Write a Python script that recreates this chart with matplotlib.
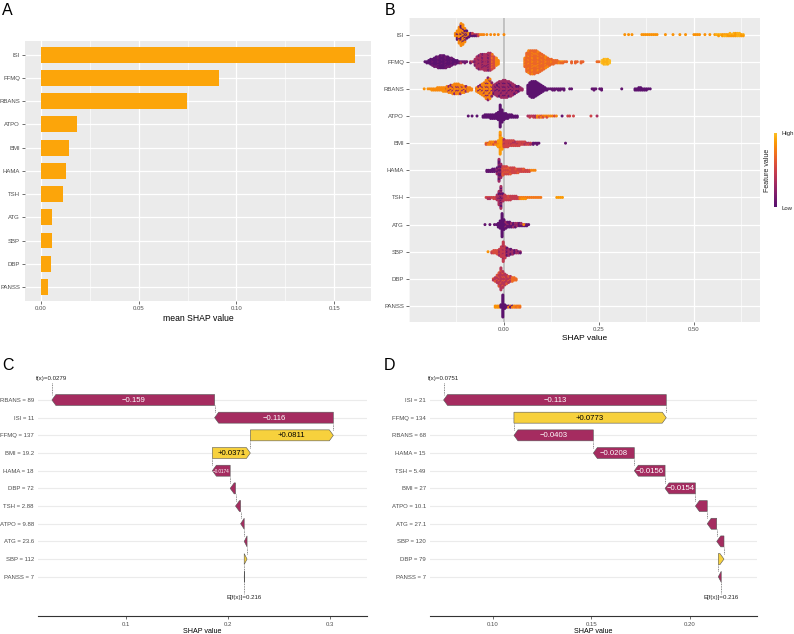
import numpy as np
import matplotlib.pyplot as plt
from matplotlib.colors import ListedColormap
from matplotlib.patches import Polygon
from matplotlib.ticker import MultipleLocator

plt.rcParams['font.family'] = ['Liberation Sans', 'DejaVu Sans']

# ---------------- data ----------------
features = ["ISI", "FFMQ", "RBANS", "ATPO", "BMI", "HAMA", "TSH", "ATG", "SBP", "DBP", "PANSS"]
mean_abs_shap = [0.1607, 0.0913, 0.0748, 0.0184, 0.0143, 0.0128, 0.0114, 0.0060, 0.0059, 0.0051, 0.0036]

BIN = 0.005
swarm_ISI = [(-0.128, [3, 8, 14, 19, 17, 12, 7, 4], 0.82, 0.05),
             (-0.088, [3, 3, 2, 2], 0.05, 0.45),
             (-0.068, [2, 1, 1, 1], 0.45, 0.80),
             (-0.045, [1, 0, 1, 0, 1, 0, 1, 0, 0, 1], 0.82, 0.82),
             (0.318, [1, 0, 1], 0.85, 0.85),
             (0.337, [1], 0.85, 0.85),
             (0.363, [1, 1, 1, 1, 1, 1, 1, 1, 1], 0.85, 0.85),
             (0.425, [1], 0.85, 0.85), (0.445, [1], 0.85, 0.85),
             (0.463, [1], 0.85, 0.85), (0.478, [1], 0.85, 0.85),
             (0.500, [1, 1, 1, 1], 0.85, 0.85),
             (0.529, [1], 0.85, 0.85), (0.542, [1], 0.85, 0.85),
             (0.555, [1, 1, 2, 1, 2, 2, 2, 2, 3, 2, 3, 3, 3, 3, 2, 2], 0.88, 0.95)]
swarm_FFMQ = [(-0.208, [1, 2, 3, 5, 6, 8, 9, 10, 11, 11, 11, 10, 9, 8, 7, 5, 4, 3, 2], 0.02, 0.10),
              (-0.113, [2, 1, 2, 1, 0, 2, 1, 1], 0.10, 0.40),
              (-0.076, [6, 10, 12, 13, 13, 14, 14, 15, 15], 0.35, 0.15),
              (-0.031, [13, 10], 0.55, 0.72),
              (-0.020, [7, 4], 0.80, 0.80),
              (0.055, [8, 16, 19, 20, 20, 20, 19, 18, 16, 14, 12, 10, 8, 6, 5, 4, 3, 3, 2, 2, 2, 1, 1], 0.68, 0.80),
              (0.178, [2, 0, 2, 1, 0, 2, 1], 0.66, 0.66),
              (0.245, [1, 1], 0.70, 0.70),
              (0.258, [3, 5, 5, 5, 3], 0.95, 1.0)]
swarm_RBANS = [(-0.210, [1], 0.85, 0.85),
               (-0.200, [1, 1, 2, 2, 2, 3, 3, 3, 4, 4], 0.82, 0.85),
               (-0.150, [5, 6, 7, 8, 9, 9, 9, 8, 7, 6, 5, 4, 3, 2], 0.80, 0.25),
               (-0.072, [4, 6, 8, 10, 12, 16, 19, 17, 12], 0.80, 0.20),
               (-0.027, [8, 10, 12, 13, 14, 15, 15, 14, 13, 12, 10, 8, 6, 5, 3, 2], 0.30, 0.05),
               (0.063, [8, 12, 14, 14, 13, 11, 9, 7, 5, 3, 2], 0.02, 0.02),
               (0.118, [1, 1, 2, 2, 1, 2, 2, 1, 2, 0, 0, 1, 1], 0.05, 0.05),
               (0.232, [1, 2, 1, 0, 1, 2], 0.05, 0.05),
               (0.310, [1], 0.05, 0.05),
               (0.345, [2, 2, 3, 3, 2, 2, 2, 1, 1], 0.02, 0.02)]
swarm_ATPO = [(-0.094, [1, 0, 1], 0.02, 0.02),
              (-0.071, [1], 0.02, 0.02),
              (-0.055, [2, 3, 3, 3, 4, 4, 4, 5, 7, 19, 11, 6, 5, 4, 3, 3, 2, 2, 2], 0.02, 0.02),
              (0.063, [1, 2, 1, 2, 2], 0.35, 0.45),
              (0.088, [2, 2, 2, 2, 1, 2, 1, 1, 1, 1, 1], 0.80, 0.55),
              (0.153, [1], 0.05, 0.05),
              (0.168, [1, 1, 0, 1], 0.50, 0.50),
              (0.229, [1], 0.50, 0.50),
              (0.245, [1], 0.35, 0.35)]
swarm_BMI = [(-0.047, [2, 2, 3, 3, 3, 3, 4], 0.80, 0.55),
             (-0.015, [6, 19, 10], 0.88, 0.75),
             (0.000, [7, 6, 6, 5, 5, 5, 4, 4, 4, 3, 3, 3, 2, 2, 2], 0.50, 0.35),
             (0.077, [2, 1, 2, 1], 0.05, 0.05),
             (0.162, [1], 0.05, 0.05)]
swarm_HAMA = [(-0.045, [2, 2, 2, 3, 3], 0.05, 0.05),
              (-0.018, [6, 19, 12], 0.05, 0.30),
              (-0.003, [8, 7, 7, 6, 6, 5, 5, 4, 4, 3, 3, 3, 2, 2, 2], 0.50, 0.62),
              (0.072, [1, 1, 1], 0.80, 0.80)]
swarm_TSH = [(-0.047, [1, 2, 2, 1, 2, 2], 0.50, 0.35),
             (-0.018, [5, 12, 19, 7], 0.35, 0.05),
             (0.002, [5, 4, 4, 4, 3, 3, 3, 2], 0.45, 0.55),
             (0.042, [2, 2, 2, 2, 1, 1, 1, 1, 1, 1, 1, 1], 0.75, 0.85),
             (0.139, [1, 1, 1, 1], 0.88, 0.88)]
swarm_ATG = [(-0.050, [1], 0.05, 0.05),
             (-0.037, [1], 0.05, 0.05),
             (-0.025, [1, 1], 0.05, 0.05),
             (-0.015, [4, 7, 20, 9], 0.02, 0.02),
             (0.005, [6, 5, 5, 4, 4, 4, 3, 3, 3, 2, 2, 2, 1], 0.05, 0.30),
             (0.052, [1], 0.80, 0.80)]
swarm_SBP = [(-0.042, [1], 0.85, 0.85),
             (-0.032, [2, 3, 3, 4], 0.55, 0.45),
             (-0.012, [6, 9, 17, 10], 0.45, 0.30),
             (0.008, [7, 6, 5, 4, 3, 3, 2, 2], 0.30, 0.05)]
swarm_DBP = [(-0.028, [2, 4, 7, 12, 19, 14, 10, 8, 6, 5], 0.40, 0.60),
             (0.022, [4, 3, 2], 0.70, 0.70)]
swarm_PANSS = [(-0.023, [2, 2, 2], 0.85, 0.85),
               (-0.008, [3, 19, 4], 0.02, 0.02),
               (0.007, [2, 2, 2, 2], 0.05, 0.75),
               (0.027, [2, 2, 2, 2], 0.80, 0.70)]
swarms = [swarm_ISI, swarm_FFMQ, swarm_RBANS, swarm_ATPO, swarm_BMI, swarm_HAMA,
          swarm_TSH, swarm_ATG, swarm_SBP, swarm_DBP, swarm_PANSS]

# waterfall C
labels_c = ["RBANS = 89", "ISI = 11", "FFMQ = 137", "BMI = 19.2", "HAMA = 18", "DBP = 72",
            "TSH = 2.88", "ATPO = 9.88", "ATG = 23.6", "SBP = 112", "PANSS = 7"]
shap_c = [-0.159, -0.116, 0.0811, 0.0371, -0.0174, -0.0052, -0.005, -0.0035, -0.0028, 0.0028, -0.0002]
# waterfall D
labels_d = ["ISI = 21", "FFMQ = 134", "RBANS = 68", "HAMA = 15", "TSH = 5.49", "BMI = 27",
            "ATPO = 10.1", "ATG = 27.1", "SBP = 120", "DBP = 79", "PANSS = 7"]
shap_d = [-0.113, 0.0773, -0.0403, -0.0208, -0.0156, -0.0154, -0.006, -0.0048, -0.0037, 0.0029, -0.0015]
base_value = 0.216

# ---------------- figure ----------------
W, H = 794, 634
fig = plt.figure(figsize=(W / 100, H / 100), dpi=100)


def px_axes(l, t, r, b):
    return fig.add_axes([l / W, 1 - b / H, (r - l) / W, (b - t) / H])


def gg_style(ax):
    ax.set_facecolor('#EBEBEB')
    for s in ax.spines.values():
        s.set_visible(False)
    ax.grid(which='major', color='white', lw=0.9, zorder=0)
    ax.grid(which='minor', axis='x', color='white', lw=0.45, zorder=0)
    ax.set_axisbelow(True)
    ax.tick_params(which='major', labelsize=4.3, labelcolor='#4D4D4D', color='#333333',
                   length=2, width=0.5, pad=1.5)
    ax.tick_params(which='minor', length=0)


ypos = np.arange(len(features))

# ---- A
axA = px_axes(25, 40.7, 371, 301)
gg_style(axA)
axA.barh(ypos, mean_abs_shap, height=0.68, color='#fca50a', zorder=3)
axA.set_ylim(10.6, -0.6)
axA.set_xlim(-0.008, 0.1687)
axA.set_yticks(ypos, features)
axA.set_xticks([0, 0.05, 0.10, 0.15], ["0.00", "0.05", "0.10", "0.15"])
axA.xaxis.set_minor_locator(MultipleLocator(0.025))
axA.set_xlabel("mean SHAP value", fontsize=6.2, labelpad=2)

# ---- B
inferno_cut = ListedColormap(plt.cm.inferno(np.linspace(0.25, 0.85, 256)))
axB = px_axes(409, 18.3, 760, 322.3)
gg_style(axB)
axB.axvline(0, color='#BDBDBD', lw=1.3, zorder=1)
STEP = 0.045
xs, ys, cs = [], [], []
for row, clusters in enumerate(swarms):
    for x0, counts, ca, cb in clusters:
        for i, n in enumerate(counts):
            x = x0 + i * BIN
            for k in range(n):
                off = ((k + 1) // 2) * (1 if k % 2 else -1) * STEP
                xs.append(x)
                ys.append(row + off)
                # interleave the two colours irregularly inside a cluster
                cs.append(cb if (k * k + 3 * i * i + 2 * i + row) % 7 in (2, 5) else ca)
axB.scatter(xs, ys, c=cs, cmap=inferno_cut, vmin=0, vmax=1, s=4.6, linewidths=0, zorder=2)
axB.set_ylim(10.6, -0.6)
axB.set_xlim(-0.25, 0.674)
axB.set_yticks(ypos, features)
axB.set_xticks([0, 0.25, 0.5], ["0.00", "0.25", "0.50"])
axB.xaxis.set_minor_locator(MultipleLocator(0.125))
axB.set_xlabel("SHAP value", fontsize=6.0, labelpad=2)

# colour bar
axCb = px_axes(774, 133, 777, 207)
axCb.imshow(np.linspace(1, 0, 100)[:, None], cmap=inferno_cut, aspect='auto')
axCb.set_axis_off()
fig.text(781 / W, 1 - 133 / H, "High", fontsize=4.3, va='center', ha='left', color='#222222')
fig.text(781 / W, 1 - 208 / H, "Low", fontsize=4.3, va='center', ha='left', color='#222222')
fig.text(767.5 / W, 1 - 170 / H, "Feature value", fontsize=5.0, rotation=90,
         va='center', ha='center', color='#222222')


# ---- waterfalls
def em_width(s):
    w = 0
    for ch in s:
        w += {'.': 0.278, '\u2212': 0.584, '+': 0.584}.get(ch, 0.556)
    return w


def waterfall(ax, labels, values, base, xlim, ticks, ticklabels):
    n = len(values)
    ax.set_xlim(*xlim)
    ax.set_ylim(12.22, -1.98)
    ppu = ax.get_position().width * W / (xlim[1] - xlim[0])
    head = 4 / ppu
    h = 0.31
    starts, ends = [0] * n, [0] * n
    cur = base
    for i in range(n - 1, -1, -1):
        starts[i] = cur
        ends[i] = cur + values[i]
        cur = ends[i]
    fx = ends[0]
    for i in range(n):
        ax.axhline(i, color='#EBEBEB', lw=0.8, zorder=0)
        a, b = starts[i], ends[i]
        d = np.sign(b - a)
        hl = min(head, abs(b - a))
        neck = b - d * hl
        fc = '#f7d13d' if values[i] > 0 else '#a52c60'
        ax.add_patch(Polygon([(a, i - h), (neck, i - h), (b, i), (neck, i + h), (a, i + h)],
                             closed=True, fc=fc, ec='#555555', lw=0.4, zorder=3))
        v = values[i]
        txt = ("+" if v > 0 else "\u2212") + f"{abs(v):.3g}"
        avail = abs(b - a) * ppu - 1
        fs = min(5.6, avail / (em_width(txt) * 100 / 72))
        if fs >= 3:
            ax.text((a + b) / 2, i + 0.03, txt, fontsize=fs, ha='center', va='center',
                    color='black' if v > 0 else 'white', zorder=4)
    dot = dict(color='#444444', lw=0.5, ls=(0, (1.2, 1.2)), zorder=2)
    for i in range(1, n):
        ax.plot([ends[i], ends[i]], [i - h, i - 1 + h], **dot)
    ax.plot([fx, fx], [-0.95, -h], **dot)
    ax.plot([base, base], [n - 1 + h, 10.95], **dot)
    ax.text(fx, -1.19, f"f(x)={fx:.3g}", fontsize=4.4, ha='center', va='center', color='#222222')
    ax.text(base, 11.19, f"E[f(x)]={base:.3g}", fontsize=4.4, ha='center', va='center', color='#222222')
    for s in ['top', 'right', 'left']:
        ax.spines[s].set_visible(False)
    ax.spines['bottom'].set_color('#333333')
    ax.spines['bottom'].set_linewidth(0.8)
    ax.set_yticks(range(n), labels)
    ax.set_xticks(ticks, ticklabels)
    ax.tick_params(axis='y', length=0, labelsize=4.3, labelcolor='#4D4D4D', pad=3)
    ax.tick_params(axis='x', length=2, width=0.5, color='#333333', labelsize=4.3,
                   labelcolor='#4D4D4D', pad=2)
    ax.set_xlabel("SHAP value", fontsize=5.1, labelpad=1)


axC = px_axes(38, 365, 367, 616)
waterfall(axC, labels_c, shap_c, base_value, (0.0143, 0.3358), [0.1, 0.2, 0.3], ["0.1", "0.2", "0.3"])
axD = px_axes(430, 365, 756.7, 616)
waterfall(axD, labels_d, shap_d, base_value, (0.0682, 0.234), [0.10, 0.15, 0.20], ["0.10", "0.15", "0.20"])

# panel letters
for lab, x, y in [("A", 2, 3), ("B", 385, 3), ("C", 2, 358), ("D", 384, 358)]:
    fig.text(x / W, 1 - y / H, lab, fontsize=11.5, ha='left', va='top')

fig.savefig("out.png", dpi=100)
